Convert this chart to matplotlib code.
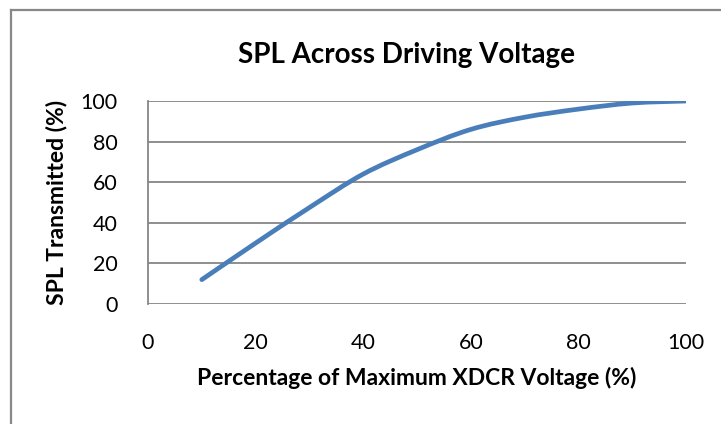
import numpy as np
import matplotlib
matplotlib.use("Agg")
from matplotlib import pyplot as plt
from matplotlib.path import Path
from matplotlib import patches
from matplotlib.lines import Line2D

# values
voltage_pct = [10, 20, 30, 40, 50, 60, 70, 80, 90, 100]
spl_pct = [12, 30, 47.5, 64, 76, 86, 92, 96, 99, 100]
x_ticks = [0, 20, 40, 60, 80, 100]
y_ticks = [0, 20, 40, 60, 80, 100]

LINE_BLUE = "#4a7ebb"
GRID_GRAY = "#868686"

plt.rcParams["font.family"] = ["Lato", "DejaVu Sans"]

fig = plt.figure(figsize=(7.21, 4.24), dpi=100)
ax = fig.add_axes([148 / 721, 1 - 304 / 424, (686 - 148) / 721, (304 - 101) / 424])


def smooth_path(xs, ys, tension=1 / 6):
    # Catmull-Rom style bezier through the data points (like Excel's smoothed line)
    pts = list(zip(xs, ys))
    verts = [pts[0]]
    codes = [Path.MOVETO]
    for i in range(len(pts) - 1):
        p0 = pts[i - 1] if i > 0 else pts[i]
        p1 = pts[i]
        p2 = pts[i + 1]
        p3 = pts[i + 2] if i + 2 < len(pts) else pts[i + 1]
        c1 = (p1[0] + (p2[0] - p0[0]) * tension, p1[1] + (p2[1] - p0[1]) * tension)
        c2 = (p2[0] - (p3[0] - p1[0]) * tension, p2[1] - (p3[1] - p1[1]) * tension)
        verts += [c1, c2, p2]
        codes += [Path.CURVE4] * 3
    return Path(verts, codes)


curve = patches.PathPatch(smooth_path(voltage_pct, spl_pct), facecolor="none",
                          edgecolor=LINE_BLUE, linewidth=3.4, capstyle="round",
                          joinstyle="round", zorder=3)
ax.add_patch(curve)

ax.set_xlim(0, 100)
ax.set_ylim(0, 100)
ax.set_xticks(x_ticks)
ax.set_yticks(y_ticks)
ax.tick_params(length=0, labelsize=15.5, colors="black")
ax.tick_params(axis="x", pad=21)
ax.tick_params(axis="y", pad=22)

for y in y_ticks:
    ax.axhline(y, color=GRID_GRAY, linewidth=1.3, zorder=1)
for side in ["top", "right", "bottom"]:
    ax.spines[side].set_visible(False)
ax.spines["left"].set_color(GRID_GRAY)
ax.spines["left"].set_linewidth(1.3)

ax.set_xlabel("Percentage of Maximum XDCR Voltage (%)", fontsize=16.5,
              fontweight="bold", labelpad=10)
ax.set_ylabel("SPL Transmitted (%)", fontsize=16.5, fontweight="bold", labelpad=9)
fig.text(407 / 721, 1 - 55 / 424, "SPL Across Driving Voltage", fontsize=20,
         fontweight="bold", ha="center", va="center")

# chart area border (only left and top edges visible in the crop)
fig.add_artist(Line2D([11 / 721, 11 / 721], [0, 1 - 10 / 424], color="#888888",
                      linewidth=1.6, transform=fig.transFigure))
fig.add_artist(Line2D([11 / 721, 1], [1 - 10 / 424, 1 - 10 / 424], color="#888888",
                      linewidth=1.6, transform=fig.transFigure))

fig.savefig("out.png", dpi=100)
